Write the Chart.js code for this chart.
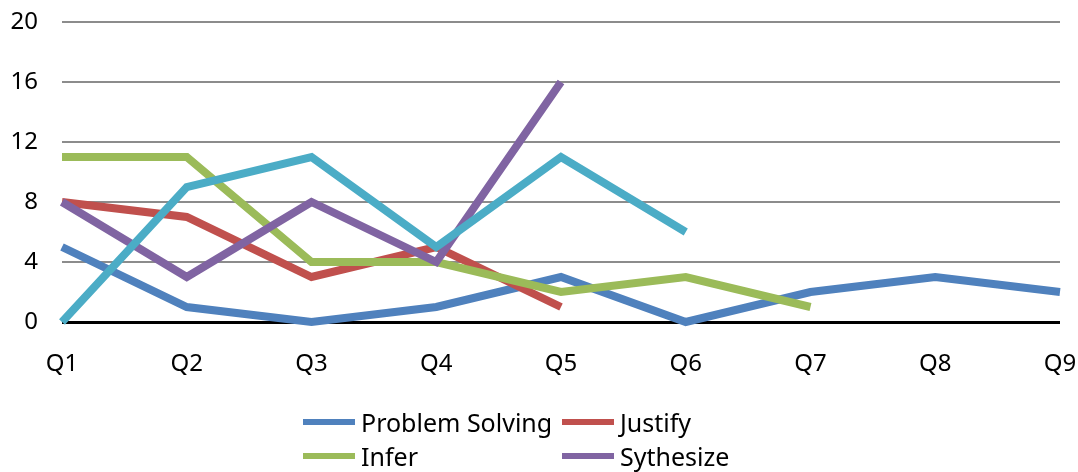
<!DOCTYPE html>
<html>
<head>
<meta charset="utf-8">
<script src="https://cdn.jsdelivr.net/npm/chart.js@4/dist/chart.umd.min.js"></script>
<style>
  html, body { margin: 0; padding: 0; background: #fff; }
  #wrap { position: relative; width: 1078px; height: 472px; }
  #chart { position: absolute; left: 0; top: 0; }
  #legend {
    position: absolute; left: 303px; top: 405px;
    display: grid; grid-template-columns: 259px auto; grid-auto-rows: 34px;
    font-family: "Noto Sans", sans-serif; font-size: 25px; color: #000;
  }
  .item { display: flex; align-items: center; white-space: nowrap; }
  .swatch { width: 52px; height: 6px; margin-right: 6px; }
</style>
</head>
<body>
<div id="wrap">
  <canvas id="chart" width="1078" height="472"></canvas>
  <div id="legend"></div>
</div>
<script>
// Question labels along the x axis
const questions = ['Q1', 'Q2', 'Q3', 'Q4', 'Q5', 'Q6', 'Q7', 'Q8', 'Q9'];

// Counts per skill for each question (null = not asked)
const problemSolving = [5, 1, 0, 1, 3, 0, 2, 3, 2];
const justify        = [8, 7, 3, 5, 1, null, null, null, null];
const infer          = [11, 11, 4, 4, 2, 3, 1, null, null];
const sythesize      = [8, 3, 8, 4, 16, null, null, null, null];
const series5        = [0, 9, 11, 5, 11, 6, null, null, null];

// Value axis ticks
const yTicks = [0, 4, 8, 12, 16, 20];

const FONT = '"Noto Sans", sans-serif';

function line(label, data, color, order, inLegend) {
  return {
    label, data, order,
    borderColor: color, backgroundColor: color,
    borderWidth: 8, pointRadius: 0, pointHoverRadius: 0,
    tension: 0, fill: false, clip: false,
    inLegend
  };
}

const datasets = [
  line('Problem Solving', problemSolving, '#4F81BD', 4, true),
  line('Justify', justify, '#C0504D', 3, true),
  line('Infer', infer, '#9BBB59', 2, true),
  line('Sythesize', sythesize, '#8064A2', 1, true),
  line('Series 5', series5, '#4BACC6', 0, false)
];

// Let the layout padding alone decide where the plot area sits
function noScalePadding(s) {
  s.paddingTop = 0; s.paddingBottom = 0; s.paddingLeft = 0; s.paddingRight = 0;
}

const chart = new Chart(document.getElementById('chart'), {
  type: 'line',
  data: { labels: questions, datasets },
  options: {
    responsive: false,
    animation: false,
    events: [],
    layout: { padding: { top: 22, right: 18, left: 0, bottom: 90 } },
    plugins: { legend: { display: false }, tooltip: { enabled: false } },
    scales: {
      x: {
        offset: false,
        grid: { display: false, drawTicks: false },
        border: { display: false },
        ticks: { color: '#000', font: { family: FONT, size: 24 }, padding: 28, maxRotation: 0, autoSkip: false },
        afterFit: s => { s.height = 60; noScalePadding(s); }
      },
      y: {
        min: 0, max: 20,
        afterBuildTicks: s => { s.ticks = yTicks.map(v => ({ value: v })); },
        grid: {
          drawTicks: false,
          color: c => c.tick && c.tick.value === 0 ? '#000' : '#8C8C8C',
          lineWidth: c => c.tick && c.tick.value === 0 ? 3 : 2
        },
        border: { display: false },
        ticks: { color: '#000', font: { family: FONT, size: 24 }, padding: 24 },
        afterFit: s => { s.width = 62; noScalePadding(s); }
      }
    }
  }
});

// Two-column legend built from the chart's own datasets
const legend = document.getElementById('legend');
chart.data.datasets.filter(d => d.inLegend).forEach(d => {
  const item = document.createElement('div');
  item.className = 'item';
  const sw = document.createElement('span');
  sw.className = 'swatch';
  sw.style.background = d.borderColor;
  const txt = document.createElement('span');
  txt.textContent = d.label;
  item.appendChild(sw);
  item.appendChild(txt);
  legend.appendChild(item);
});
</script>
</body>
</html>
